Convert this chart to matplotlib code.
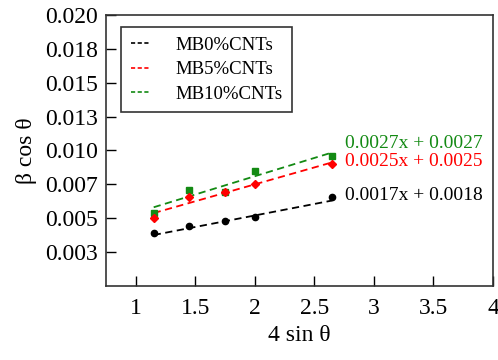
import numpy as np
import matplotlib
matplotlib.use("Agg")
import matplotlib.pyplot as plt
from matplotlib.lines import Line2D

# data
x = [1.15, 1.45, 1.75, 2.0, 2.65]
beta_mb0 = [0.0039, 0.0044, 0.0048, 0.0051, 0.0066]
beta_mb5 = [0.0050, 0.0066, 0.0069, 0.0075, 0.0090]
beta_mb10 = [0.0054, 0.0071, 0.0069, 0.0085, 0.0096]

labels = ["MB0%CNTs", "MB5%CNTs", "MB10%CNTs"]
slopes = [0.0017, 0.0025, 0.0027]
intercepts = [0.0018, 0.0025, 0.0027]
eq_text = ["0.0017x + 0.0018", "0.0025x + 0.0025", "0.0027x + 0.0027"]
eq_y = [0.00664, 0.00915, 0.01055]

colors = ["black", "#ff0000", "#138a13"]
markers = ["o", "D", "s"]
msizes = [4.5, 4.0, 4.5]
zorders = [3, 4, 3]

plt.rcParams['font.family'] = ['Liberation Serif', 'DejaVu Serif']

fig = plt.figure(figsize=(4.98, 3.6), dpi=100)
ax = fig.add_axes([0.213, 0.206, 0.777, 0.752])

series = [beta_mb0, beta_mb5, beta_mb10]
xx = np.array([x[0], x[-1]])
for i in range(3):
    ax.plot(x, series[i], linestyle='none', marker=markers[i],
            color=colors[i], markersize=msizes[i], zorder=zorders[i])
    ax.plot(xx, slopes[i] * xx + intercepts[i], color=colors[i],
            linestyle=(0, (4, 2.5)), linewidth=1.3, zorder=2)
    ax.text(2.76, eq_y[i], eq_text[i], color=colors[i], fontsize=14,
            va='center', ha='left')

ax.set_xlim(0.75, 4)
ax.set_ylim(0, 0.020)
ax.set_xticks([1, 1.5, 2, 2.5, 3, 3.5, 4])
ax.set_xticklabels(["1", "1.5", "2", "2.5", "3", "3.5", "4"])
yt = [0.0025 * k for k in range(1, 9)]
ax.set_yticks(yt)
ax.set_yticklabels(["%.3f" % v for v in yt])
ax.tick_params(direction='in', length=7, width=1, labelsize=17, pad=6)
ax.tick_params(axis='x', pad=9)
for s in ax.spines.values():
    s.set_linewidth(1.2)
    s.set_color('#333333')

ax.set_xlabel("4 sin θ", fontsize=17, labelpad=4)
ax.set_ylabel("β cos θ", fontsize=17, labelpad=6)

handles = [Line2D([0], [0], color=c, linestyle=(0, (2.5, 1.5)), linewidth=1.2)
           for c in colors]
leg = ax.legend(handles, labels, loc='upper left', bbox_to_anchor=(0.039, 0.956),
                borderaxespad=0, fontsize=13.5, handlelength=1.0,
                handletextpad=1.4, labelspacing=0.4, borderpad=0.5,
                fancybox=False, framealpha=1)
leg.get_frame().set_edgecolor('#333333')
leg.get_frame().set_linewidth(1.2)

fig.savefig("out.png", dpi=100)
